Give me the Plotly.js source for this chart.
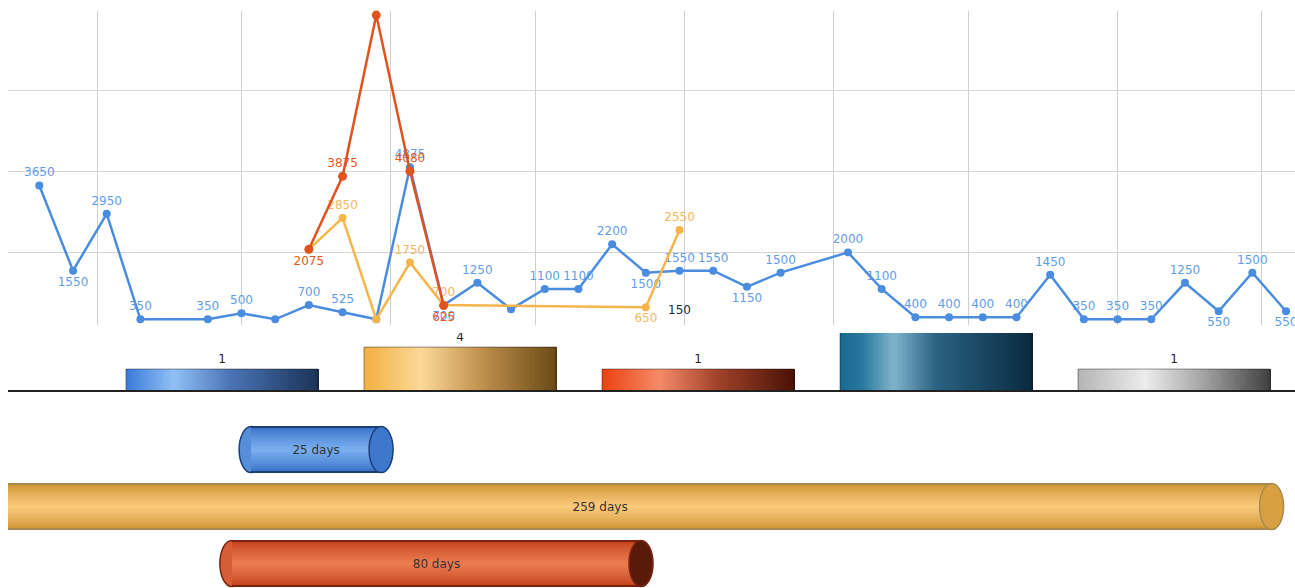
<!DOCTYPE html>
<html><head><meta charset="utf-8">
<script src="https://cdn.plot.ly/plotly-3.0.1.min.js"></script>
<style>html,body{margin:0;padding:0;background:#fff;}#chart{width:1295px;height:588px;}</style>
</head><body><div id="chart"></div>
<script>
// ---------------- DATA ----------------
const weeks = ['2012-08-20','2012-08-27','2012-09-03','2012-09-10','2012-09-17','2012-09-24','2012-10-01','2012-10-08','2012-10-15','2012-10-22','2012-10-29','2012-11-05','2012-11-12','2012-11-19','2012-11-26','2012-12-03','2012-12-10','2012-12-17','2012-12-24','2012-12-31','2013-01-07','2013-01-14','2013-01-21','2013-01-28','2013-02-04','2013-02-11','2013-02-18','2013-02-25','2013-03-04','2013-03-11','2013-03-18','2013-03-25','2013-04-01','2013-04-08','2013-04-15','2013-04-22','2013-04-29','2013-05-06'];
const blueValues = [3650,1550,2950,350,null,350,500,350,700,525,350,4100,700,1250,600,1100,1100,2200,1500,1550,1550,1150,1500,null,2000,1100,400,400,400,400,1450,350,350,350,1250,550,1500,550];
const blueLabels = ['3650','1550','2950','350','','350','500','','700','525','','4875','700','1250','','1100','1100','2200','1500','1550','1550','1150','1500','','2000','1100','400','400','400','400','1450','350','350','350','1250','550','1500','550'];

const redDates = ['2012-10-15','2012-10-22','2012-10-29','2012-11-05','2012-11-12'];
const redValues = [2075,3875,7850,4000,690];
const redLabels = ['2075','3875','','4080','625'];

const yellowDates = ['2012-10-15','2012-10-22','2012-10-29','2012-11-05','2012-11-12','2012-12-24','2012-12-31'];
const yellowValues = [2075,2850,350,1750,700,650,2550];
const yellowLabels = ['','2850','','1750','700','650','2550'];

const otherDates = ['2012-12-31'];
const otherValues = [560];
const otherLabels = ['150'];

const barCategories = ['A','B','C','D','E'];
const barValues = [1,4,1,12,1];

const ganttTasks = [0,1,2];
const ganttStart = ['2012-10-03','2012-07-28','2012-09-29'];
const ganttEnd = ['2012-10-30','2013-05-03','2012-12-23'];
const ganttDays = [25,259,80];

// ---------------- STYLE ----------------
const W = 1295, H = 588;
const xRange = ['2012-08-13 11:50','2013-05-07 20:40'];
const xDomain = [8/W, 1];
const py = p => 1 - p/H;

const bluePos = blueLabels.map((_,i)=>[1,12,18,21,35,37].includes(i)?'bottom center':'top center');
const redPos = ['bottom center','top center','top center','top center','bottom center'];
const yellowPos = ['top center','top center','top center','top center','top center','bottom center','top center'];

function hex(h){h=h.replace('#','');return [parseInt(h.slice(0,2),16),parseInt(h.slice(2,4),16),parseInt(h.slice(4,6),16)];}
function mix(a,b,t){const A=hex(a),B=hex(b);return 'rgb('+A.map((v,i)=>Math.round(v+(B[i]-v)*t)).join(',')+')';}
function grad(stops,t){
  for(let i=0;i<stops.length-1;i++){
    const [p0,c0]=stops[i],[p1,c1]=stops[i+1];
    if(t<=p1){return mix(c0,c1,(t-p0)/(p1-p0));}
  }
  const last=stops[stops.length-1][1];return mix(last,last,0);
}

const traces = [];
const fontFam = 'DejaVu Sans, Verdana, sans-serif';

// line chart
traces.push({type:'scatter',mode:'lines+markers+text',x:weeks,y:blueValues,text:blueLabels,textposition:bluePos,
  connectgaps:true,cliponaxis:false,line:{color:'#4a8de0',width:2.5},marker:{color:'#4a8de0',size:8},
  textfont:{color:'#5f9de8',size:12,family:fontFam},xaxis:'x',yaxis:'y'});
traces.push({type:'scatter',mode:'lines+markers+text',x:yellowDates,y:yellowValues,text:yellowLabels,textposition:yellowPos,
  connectgaps:true,cliponaxis:false,line:{color:'#f5b54a',width:2.5},marker:{color:'#f5b54a',size:8},
  textfont:{color:'#f5b860',size:12,family:fontFam},xaxis:'x',yaxis:'y'});
traces.push({type:'scatter',mode:'lines+markers+text',x:redDates,y:redValues,text:redLabels,textposition:redPos,
  cliponaxis:false,line:{color:'#e0521e',width:2.5},marker:{color:'#e0521e',size:9},
  textfont:{color:'#e0581e',size:12,family:fontFam},xaxis:'x',yaxis:'y'});
traces.push({type:'scatter',mode:'text',x:otherDates,y:otherValues,text:otherLabels,textposition:'middle center',
  cliponaxis:false,textfont:{color:'#1a2a3a',size:12,family:fontFam},xaxis:'x',yaxis:'y'});

// category bars with gradient stripes
const catStops = [
  [[0,'#3a7ad8'],[0.25,'#90c0f6'],[0.55,'#4a72b4'],[1,'#1a3458']],
  [[0,'#f2b040'],[0.3,'#fcd898'],[0.6,'#c29250'],[1,'#6a4a14']],
  [[0,'#ea4210'],[0.3,'#f68a68'],[0.6,'#a2422a'],[1,'#4a1206']],
  [[0,'#1a6890'],[0.12,'#2a7aa0'],[0.28,'#80b4cc'],[0.5,'#2a6282'],[1,'#082a40']],
  [[0,'#b4b4b4'],[0.35,'#ececec'],[0.65,'#a4a4a4'],[1,'#404040']]
];
const BW = 0.807, NS = 64;
for(let s=0;s<NS;s++){
  traces.push({type:'bar',x:barCategories,y:barValues,width:BW/NS+0.003,offset:-BW/2+s*BW/NS,
    marker:{color:barCategories.map((_,c)=>grad(catStops[c],(s+0.5)/NS)),line:{width:0}},
    hoverinfo:'skip',xaxis:'x2',yaxis:'y2',cliponaxis:true});
}
traces.push({type:'bar',x:barCategories,y:barValues,width:BW,text:barValues.map(String),textposition:'outside',
  textfont:{color:'#222',size:12,family:fontFam},cliponaxis:true,
  marker:{color:'rgba(0,0,0,0)',line:{color:'rgba(0,0,0,0.4)',width:1}},xaxis:'x2',yaxis:'y2'});

// gantt cylinders
const TH = 0.81, px1 = 1/57;
const gOutline = ['#1c3f78','#a88a50','#7a2410'];
const gEdge = ['#3a74c8','#cf9636','#c4441e'];
const gCenter = ['#78aef0','#fcca7c','#ec7c50'];
const gCap = ['#3d78cc','#d8a040','#5a1a0a'];
const durations = ganttStart.map((s,i)=>Date.parse(ganttEnd[i])-Date.parse(s));
traces.push({type:'bar',orientation:'h',y:ganttTasks,x:durations,base:ganttStart,width:TH,
  marker:{color:gOutline,line:{width:0}},hoverinfo:'skip',xaxis:'x3',yaxis:'y3'});
const NB = 22;
for(let k=0;k<NB;k++){
  const t = k/(NB-1);
  traces.push({type:'bar',orientation:'h',y:ganttTasks,x:durations,base:ganttStart,
    width:(TH-3*px1)*(1-k/NB),
    marker:{color:ganttTasks.map((_,i)=>mix(gEdge[i],gCenter[i],Math.pow(t,0.8))),line:{width:0}},
    hoverinfo:'skip',xaxis:'x3',yaxis:'y3'});
}
traces.push({type:'bar',orientation:'h',y:ganttTasks,x:durations,base:ganttStart,width:TH,
  text:ganttDays.map(d=>d+' days'),textposition:'inside',insidetextanchor:'middle',constraintext:'none',
  textfont:{color:'#333',size:12,family:fontFam},marker:{color:'rgba(0,0,0,0)',line:{width:0}},xaxis:'x3',yaxis:'y3'});

const shapes = [];
ganttTasks.forEach((r,i)=>{
  shapes.push({type:'circle',xref:'x3',yref:'y3',xsizemode:'pixel',xanchor:ganttStart[i],x0:-12,x1:12,
    y0:r-TH/2,y1:r+TH/2,fillcolor:mix(gEdge[i],gCenter[i],0.45),line:{color:gOutline[i],width:1.5},layer:'below'});
  shapes.push({type:'circle',xref:'x3',yref:'y3',xsizemode:'pixel',xanchor:ganttEnd[i],x0:-12,x1:12,
    y0:r-TH/2,y1:r+TH/2,fillcolor:gCap[i],line:{color:gOutline[i],width:1.5},layer:'above'});
});

const layout = {
  width:W,height:H,margin:{l:0,r:0,t:0,b:0},showlegend:false,barmode:'overlay',bargap:0,
  paper_bgcolor:'#fff',plot_bgcolor:'#fff',font:{family:fontFam},
  xaxis:{type:'date',domain:xDomain,range:xRange,anchor:'y',tick0:'2012-09-01',dtick:'M1',showgrid:true,
    gridcolor:'#cfcfcf',gridwidth:1,showticklabels:false,ticks:'',zeroline:false,showline:false},
  yaxis:{domain:[py(325),py(11)],range:[210,7950],tick0:0,dtick:2000,showgrid:true,gridcolor:'#d6d6d6',gridwidth:1,
    showticklabels:false,ticks:'',zeroline:false,showline:false,anchor:'x'},
  xaxis2:{domain:xDomain,range:[-0.899,4.508],anchor:'y2',type:'category',showgrid:false,showticklabels:false,ticks:'',
    showline:true,linecolor:'#222',linewidth:1.5,zeroline:false},
  yaxis2:{domain:[py(390),py(333)],type:'log',range:[-0.575,0.987],anchor:'x2',showgrid:false,showticklabels:false,
    ticks:'',zeroline:false,showline:false},
  xaxis3:{type:'date',domain:xDomain,range:xRange,anchor:'y3',showgrid:false,showticklabels:false,ticks:'',zeroline:false,showline:false},
  yaxis3:{domain:[0,py(392)],range:[2.43,-1.01],anchor:'x3',showgrid:false,showticklabels:false,ticks:'',zeroline:false,showline:false},
  shapes:shapes
};
Plotly.newPlot('chart',traces,layout,{displayModeBar:false,staticPlot:true});
</script></body></html>
